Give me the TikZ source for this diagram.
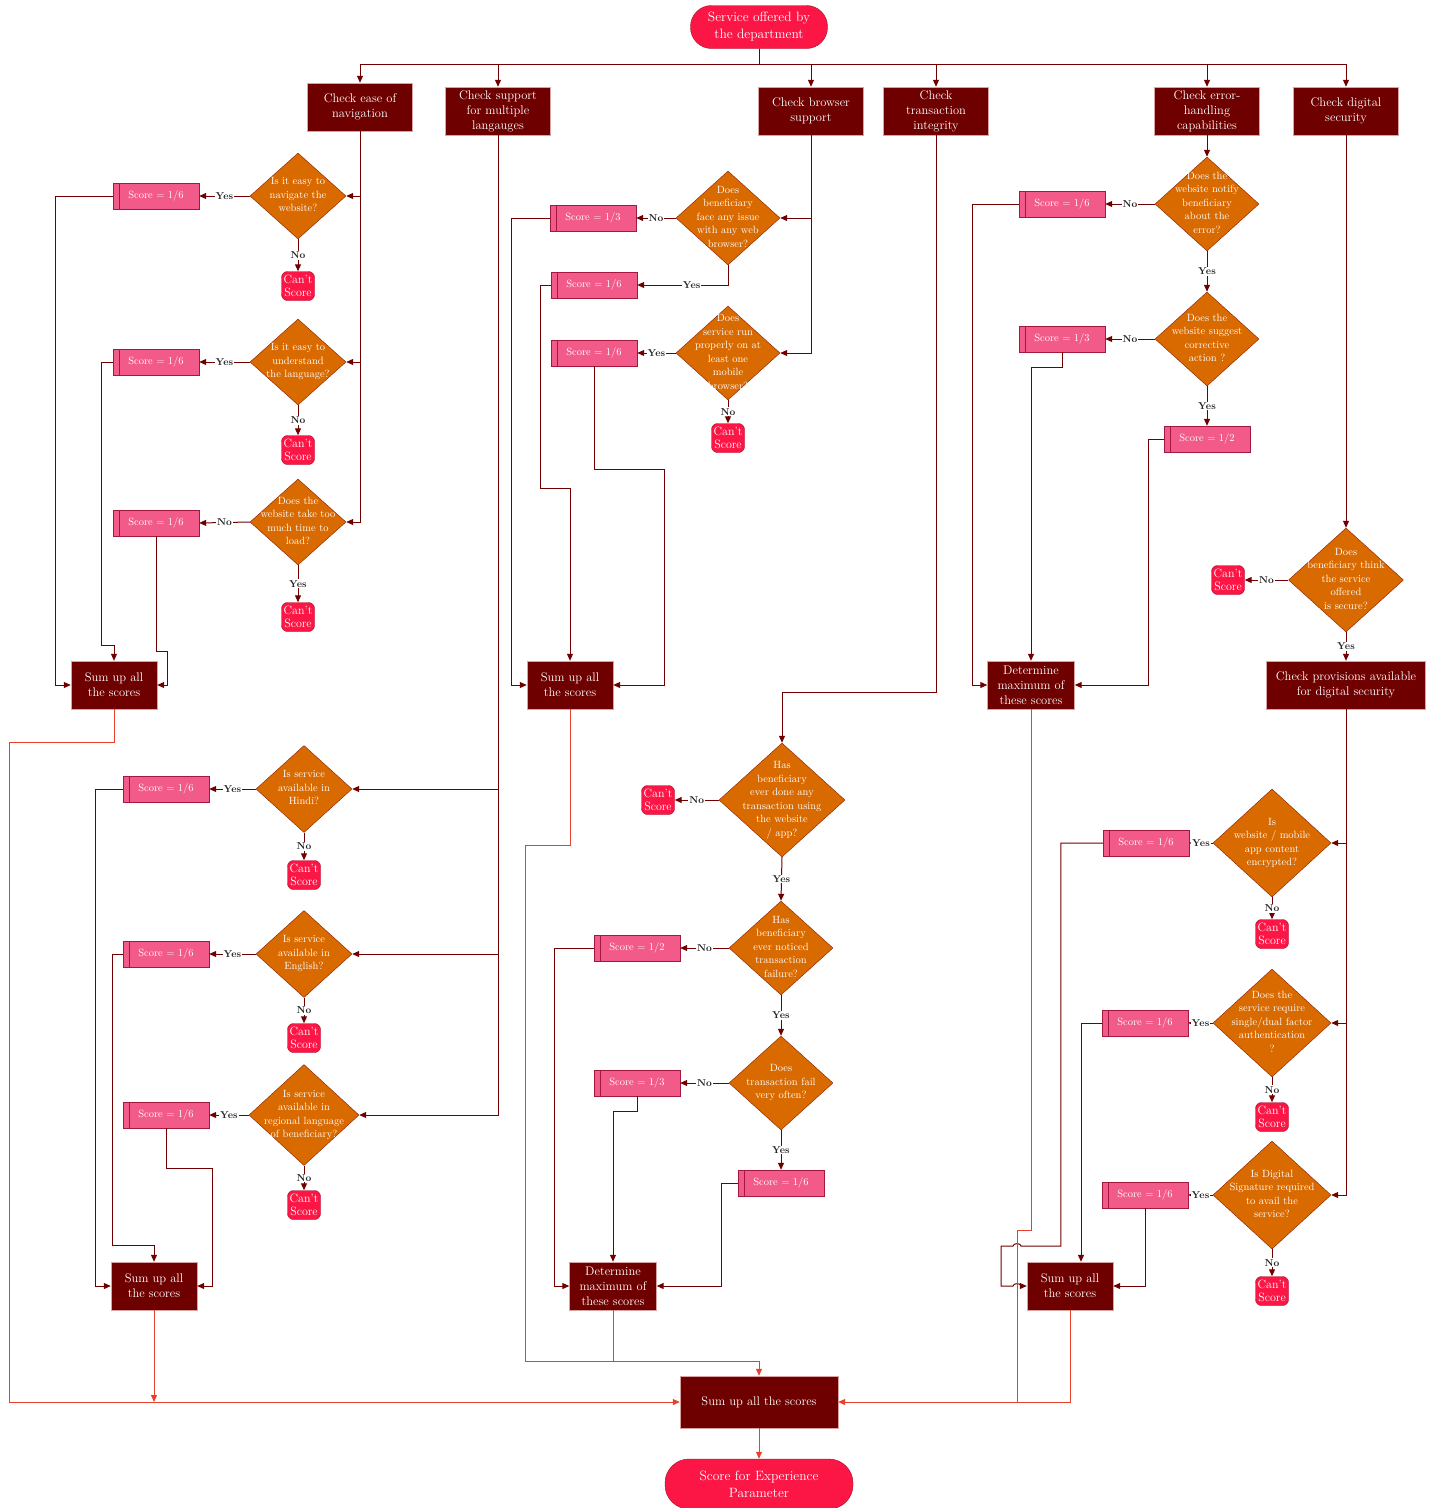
\documentclass[tikz,border=0pt]{standalone}
\usepackage{tikz}
\usetikzlibrary{shapes.geometric,arrows.meta}
\definecolor{darkbox}{HTML}{6E0000}
\definecolor{boxedge}{HTML}{D9A3A3}
\definecolor{decfill}{HTML}{D96A00}
\definecolor{decedge}{HTML}{8A1C00}
\definecolor{scorefill}{HTML}{F25A8A}
\definecolor{scoreedge}{HTML}{A3183C}
\definecolor{cantfill}{HTML}{FC1646}
\definecolor{cantedge}{HTML}{9E0F2A}
\definecolor{wire}{HTML}{700000}
\definecolor{redwire}{HTML}{E8402A}
% question text in a diamond, kept out of the shape size
\newcommand{\qtxt}[1]{\makebox[0pt]{\smash{\raisebox{-2.5pt}{\begin{tabular}{@{}c@{}}#1\end{tabular}}}}}

\begin{document}
\begin{tikzpicture}[x=1pt, y=-1pt,
	head/.style={rectangle, draw=boxedge, fill=darkbox, text=white, align=center, minimum width=105, minimum height=48, inner sep=1pt, font=\fontsize{12.5}{15}\selectfont},
	sumbox/.style={head, minimum width=86},
	term/.style={rectangle, rounded corners=21pt, draw=cantedge, fill=cantfill, text=white, align=center, inner sep=1pt, font=\fontsize{13.5}{17}\selectfont},
	dec/.style={diamond, draw=decedge, fill=decfill, text=white, inner sep=0pt, minimum width=104, minimum height=94, font=\fontsize{10.5}{13.5}\selectfont},
	score/.style={rectangle, draw=scoreedge, fill=scorefill, text=white, minimum width=86, minimum height=26, inner sep=0pt, font=\fontsize{10.5}{12}\selectfont,
		path picture={\draw[scoreedge] ([xshift=6pt]path picture bounding box.north west) -- ([xshift=6pt]path picture bounding box.south west);}},
	cant/.style={rectangle, rounded corners=6pt, draw=cantedge, fill=cantfill, text=white, align=center, minimum width=33, minimum height=29, inner sep=0pt, font=\fontsize{12}{13}\selectfont},
	lbl/.style={fill=white, inner sep=1pt, text=black!85, font=\bfseries\fontsize{10}{12}\selectfont},
	conn/.style={draw=wire, line width=1pt, -{Triangle[length=7pt,width=6pt]}},
	wline/.style={draw=wire, line width=1pt},
	rconn/.style={draw=redwire, line width=1pt, -{Triangle[length=7pt,width=6pt]}},
	rline/.style={draw=redwire, line width=1pt}]
	\useasboundingbox (0,0) rectangle (1439,1508);

	% start and the six checks
	\node[term, minimum width=137, minimum height=43] (start) at (759,27) {Service offered by\\the department};
	\node[head] (ha) at (360,107) {Check ease of\\navigation};
	\node[head] (hb) at (498,111) {Check support\\for multiple\\langauges};
	\node[head] (hc) at (811,111) {Check browser\\support};
	\node[head] (hd) at (936,111) {Check\\transaction\\integrity};
	\node[head] (he) at (1207,111) {Check error-\\handling\\capabilities};
	\node[head] (hf) at (1346,111) {Check digital\\security};

	% navigation
	\node[dec, minimum width=96, minimum height=86] (da1) at (298,196) {\qtxt{Is it easy to\\navigate the\\website?}};
	\node[dec, minimum width=96, minimum height=86] (da2) at (298,362) {\qtxt{Is it easy to\\understand\\the language?}};
	\node[dec, minimum width=96, minimum height=86] (da3) at (298,522) {\qtxt{Does the\\website take too\\much time to\\load?}};
	\node[score] (sa1) at (156,196) {Score = 1/6};
	\node[score] (sa2) at (156,362) {Score = 1/6};
	\node[score] (sa3) at (156,523) {Score = 1/6};
	\node[cant] (ca1) at (298,286) {Can't\\Score};
	\node[cant] (ca2) at (298,450) {Can't\\Score};
	\node[cant] (ca3) at (298,617) {Can't\\Score};
	\node[sumbox] (suma) at (114,685) {Sum up all\\the scores};

	% languages
	\node[dec, minimum width=96, minimum height=87] (db1) at (304,789) {\qtxt{Is service\\available in\\Hindi?}};
	\node[dec, minimum width=96, minimum height=87] (db2) at (304,954) {\qtxt{Is service\\available in\\English?}};
	\node[dec, minimum width=110, minimum height=101] (db3) at (304,1115) {\qtxt{Is service\\available in\\regional language\\of beneficiary?}};
	\node[score] (sb1) at (166,789) {Score = 1/6};
	\node[score] (sb2) at (166,954) {Score = 1/6};
	\node[score] (sb3) at (166,1115) {Score = 1/6};
	\node[cant] (cb1) at (304,875) {Can't\\Score};
	\node[cant] (cb2) at (304,1038) {Can't\\Score};
	\node[cant] (cb3) at (304,1205) {Can't\\Score};
	\node[sumbox] (sumb) at (154,1286) {Sum up all\\the scores};

	% browsers
	\node[dec] (dc1) at (728,218) {\qtxt{Does\\beneficiary\\face any issue\\with any web\\browser?}};
	\node[dec] (dc2) at (728,353) {\qtxt{Does\\service run\\properly on at\\least one\\mobile\\browser?}};
	\node[score] (sc1) at (593,218) {Score = 1/3};
	\node[score] (sc2) at (594,285) {Score = 1/6};
	\node[score] (sc3) at (594,353) {Score = 1/6};
	\node[cant] (cc1) at (728,438) {Can't\\Score};
	\node[sumbox] (sumc) at (570,685) {Sum up all\\the scores};

	% transactions
	\node[dec, minimum width=126, minimum height=114] (dd1) at (782,800) {\qtxt{Has\\beneficiary\\ever done any\\transaction using\\the website\\/ app?}};
	\node[dec] (dd2) at (781,948) {\qtxt{Has\\beneficiary\\ever noticed\\transaction\\failure?}};
	\node[dec] (dd3) at (781,1083) {\qtxt{Does\\transaction fail\\very often?}};
	\node[cant] (cd1) at (658,800) {Can't\\Score};
	\node[score] (sd1) at (637,948) {Score = 1/2};
	\node[score] (sd2) at (637,1083) {Score = 1/3};
	\node[score] (sd3) at (781,1183) {Score = 1/6};
	\node[sumbox, minimum width=87] (detd) at (613,1286) {Determine\\maximum of\\these scores};

	% errors
	\node[dec] (de1) at (1207,204) {\qtxt{Does the\\website notify\\beneficiary\\about the\\error?}};
	\node[dec] (de2) at (1207,339) {\qtxt{Does the\\website suggest\\corrective\\action ?}};
	\node[score] (se1) at (1062,204) {Score = 1/6};
	\node[score] (se2) at (1062,339) {Score = 1/3};
	\node[score] (se3) at (1207,439) {Score = 1/2};
	\node[sumbox, minimum width=87] (dete) at (1031,685) {Determine\\maximum of\\these scores};

	% security
	\node[dec, minimum width=115, minimum height=104] (df1) at (1346,580) {\qtxt{Does\\beneficiary think\\the service\\offered\\is secure?}};
	\node[cant] (cf1) at (1228,580) {Can't\\Score};
	\node[head, minimum width=159] (pf) at (1346,685) {Check provisions available\\for digital security};
	\node[dec, minimum width=118, minimum height=108] (df2) at (1272,843) {\qtxt{Is\\website / mobile\\app content\\encrypted?}};
	\node[dec, minimum width=118, minimum height=108] (df3) at (1272,1023) {\qtxt{Does the\\service require\\single/dual factor\\authentication\\?}};
	\node[dec, minimum width=118, minimum height=108] (df4) at (1272,1195) {\qtxt{Is Digital\\Signature required\\to avail the\\service?}};
	\node[score] (sf1) at (1146,843) {Score = 1/6};
	\node[score] (sf2) at (1145,1023) {Score = 1/6};
	\node[score] (sf3) at (1145,1195) {Score = 1/6};
	\node[cant] (cf2) at (1272,934) {Can't\\Score};
	\node[cant] (cf3) at (1272,1117) {Can't\\Score};
	\node[cant] (cf4) at (1272,1291) {Can't\\Score};
	\node[sumbox] (sumf) at (1070,1286) {Sum up all\\the scores};

	% result
	\node[head, minimum width=158, minimum height=52] (fin) at (759,1402) {Sum up all the scores};
	\node[term, minimum width=188, minimum height=50, rounded corners=24pt] (res) at (759,1484) {Score for Experience\\Parameter};

	% top bus
	\foreach \h in {ha,hb,hc,hd,he,hf}
		\draw[conn] (start.south) -- ++(0,16) -| (\h.north);

	% navigation links
	\foreach \d in {da1,da2,da3}
		\draw[conn] (ha.south) |- (\d.east);
	\draw[conn] (da1.west) -- node[lbl]{Yes} (sa1.east);
	\draw[conn] (da1.south) -- node[lbl]{No} (ca1.north);
	\draw[conn] (da2.west) -- node[lbl]{Yes} (sa2.east);
	\draw[conn] (da2.south) -- node[lbl]{No} (ca2.north);
	\draw[conn] (da3.west) -- node[lbl]{No} (sa3.east);
	\draw[conn] (da3.south) -- node[lbl]{Yes} (ca3.north);
	\draw[conn] (sa1.west) -| ([xshift=-15]suma.west) -- (suma.west);
	\draw[conn] (sa2.west) -- ++(-11,0) |- ([yshift=15]suma.north) -- (suma.north);
	\draw[conn] (sa3.south) -- ++(0,115) -| ([xshift=10]suma.east) -- (suma.east);

	% language links
	\foreach \d in {db1,db2,db3}
		\draw[conn] (hb.south) |- (\d.east);
	\draw[conn] (db1.west) -- node[lbl]{Yes} (sb1.east);
	\draw[conn] (db1.south) -- node[lbl]{No} (cb1.north);
	\draw[conn] (db2.west) -- node[lbl]{Yes} (sb2.east);
	\draw[conn] (db2.south) -- node[lbl]{No} (cb2.north);
	\draw[conn] (db3.west) -- node[lbl]{Yes} (sb3.east);
	\draw[conn] (db3.south) -- node[lbl]{No} (cb3.north);
	\draw[conn] (sb1.west) -| ([xshift=-15]sumb.west) -- (sumb.west);
	\draw[conn] (sb2.west) -- ++(-10,0) |- ([yshift=16]sumb.north) -- (sumb.north);
	\draw[conn] (sb3.south) -- ++(0,40) -| ([xshift=15]sumb.east) -- (sumb.east);

	% browser links
	\draw[conn] (hc.south) |- (dc1.east);
	\draw[conn] (hc.south) |- (dc2.east);
	\draw[conn] (dc1.west) -- node[lbl]{No} (sc1.east);
	\draw[conn] (dc1.south) |- node[lbl, pos=0.7]{Yes} (sc2.east);
	\draw[conn] (dc2.west) -- node[lbl]{Yes} (sc3.east);
	\draw[conn] (dc2.south) -- node[lbl]{No} (cc1.north);
	\draw[conn] (sc1.west) -| ([xshift=-15]sumc.west) -- (sumc.west);
	\draw[conn] (sc2.west) -- ++(-10,0) |- ([yshift=172]sumc.north) -- (sumc.north);
	\draw[conn] (sc3.south) -- ++(0,103) -| ([xshift=51]sumc.east) -- (sumc.east);

	% transaction links
	\draw[conn] (hd.south) -- ++(0,557) -| (dd1.north);
	\draw[conn] (dd1.west) -- node[lbl]{No} (cd1.east);
	\draw[conn] (dd1.south) -- node[lbl]{Yes} (dd2.north);
	\draw[conn] (dd2.west) -- node[lbl]{No} (sd1.east);
	\draw[conn] (dd2.south) -- node[lbl]{Yes} (dd3.north);
	\draw[conn] (dd3.west) -- node[lbl]{No} (sd2.east);
	\draw[conn] (dd3.south) -- node[lbl]{Yes} (sd3.north);
	\draw[conn] (sd1.west) -| ([xshift=-15]detd.west) -- (detd.west);
	\draw[conn] (sd2.south) -- ++(0,15) -| (detd.north);
	\draw[conn] (sd3.west) -- ++(-16,0) |- (detd.east);

	% error links
	\draw[conn] (he.south) -- (de1.north);
	\draw[conn] (de1.west) -- node[lbl]{No} (se1.east);
	\draw[conn] (de1.south) -- node[lbl]{Yes} (de2.north);
	\draw[conn] (de2.west) -- node[lbl]{No} (se2.east);
	\draw[conn] (de2.south) -- node[lbl]{Yes} (se3.north);
	\draw[conn] (se1.west) -| ([xshift=-15]dete.west) -- (dete.west);
	\draw[conn] (se2.south) -- ++(0,15) -| (dete.north);
	\draw[conn] (se3.west) -- ++(-15,0) |- (dete.east);

	% security links
	\draw[conn] (hf.south) -- (df1.north);
	\draw[conn] (df1.west) -- node[lbl]{No} (cf1.east);
	\draw[conn] (df1.south) -- node[lbl]{Yes} (pf.north);
	\foreach \d in {df2,df3,df4}
		\draw[conn] (pf.south) |- (\d.east);
	\draw[conn] (df2.west) -- node[lbl]{Yes} (sf1.east);
	\draw[conn] (df2.south) -- node[lbl]{No} (cf2.north);
	\draw[conn] (df3.west) -- node[lbl]{Yes} (sf2.east);
	\draw[conn] (df3.south) -- node[lbl]{No} (cf3.north);
	\draw[conn] (df4.west) -- node[lbl]{Yes} (sf3.east);
	\draw[conn] (df4.south) -- node[lbl]{No} (cf4.north);
	\draw[conn] (sf1.west) -- ++(-42,0) |- (1021,1246) to[out=90,in=90] (1013,1246) -- (1001,1246) |- (1013,1286) to[out=90,in=90] (1021,1286) -- (sumf.west);
	\draw[conn] (sf2.west) -| ([xshift=11]sumf.north);
	\draw[conn] (sf3.south) |- (sumf.east);

	% totals
	\draw[rconn] (suma.south) -- ++(0,33) -| (9,1402) -- (fin.west);
	\draw[rconn] (sumb.south) -- (sumb.south |- fin.west);
	\draw[rconn] (sumc.south) -- ++(0,136) -| (525,1361) -| (fin.north);
	\draw[rline] (detd.south) -- (detd.south |- 525,1361);
	\draw[rline] (dete.south) -- ++(0,521) -| (1017,1402);
	\draw[rconn] (sumf.south) |- (fin.east);
	\draw[rconn] (fin.south) -- (res.north);
\end{tikzpicture}
\end{document}
